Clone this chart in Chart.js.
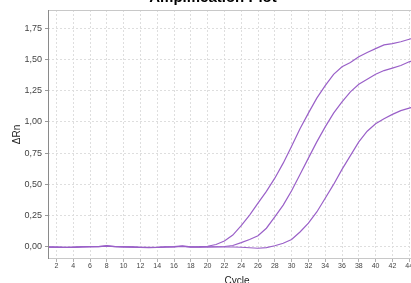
<!DOCTYPE html>
<html>
<head>
<meta charset="utf-8">
<script src="https://cdn.jsdelivr.net/npm/chart.js@4"></script>
<style>
    html, body { margin: 0; padding: 0; background: #fff; }
    #wrap { position: relative; width: 411px; height: 283px; overflow: hidden; }
    #wrap canvas { position: absolute; left: 0; top: -12px; }
</style>
</head>
<body>
<div id="wrap"><canvas id="ampChart" width="426" height="300"></canvas></div>
<script>
var cycles = [1, 2, 3, 4, 5, 6, 7, 8, 9, 10, 11, 12, 13, 14, 15, 16, 17, 18, 19, 20,
    21, 22, 23, 24, 25, 26, 27, 28, 29, 30, 31, 32, 33, 34, 35, 36, 37, 38, 39, 40,
    41, 42, 43, 44, 45];

var wellA = [0.000, -0.002, -0.004, -0.002, 0.002, 0.003, 0.004, 0.012, 0.004, 0.002,
    0.001, -0.004, -0.004, -0.003, 0.001, 0.003, 0.010, 0.002, 0.003, 0.006,
    0.020, 0.048, 0.095, 0.170, 0.255, 0.350, 0.445, 0.550, 0.670, 0.805,
    0.945, 1.070, 1.190, 1.290, 1.380, 1.440, 1.475, 1.520, 1.555, 1.585,
    1.615, 1.625, 1.640, 1.660, 1.680];

var wellB = [-0.002, 0.000, -0.003, -0.003, 0.000, 0.002, 0.003, 0.008, 0.003, 0.001,
    0.000, -0.003, -0.005, -0.004, 0.000, 0.002, 0.006, 0.000, 0.000, 0.001,
    0.002, 0.004, 0.012, 0.035, 0.060, 0.090, 0.150, 0.240, 0.335, 0.450,
    0.580, 0.710, 0.840, 0.960, 1.070, 1.160, 1.240, 1.300, 1.340, 1.380,
    1.410, 1.430, 1.450, 1.480, 1.500];

var wellC = [0.001, -0.001, -0.002, -0.001, 0.001, 0.002, 0.002, 0.006, 0.002, 0.001,
    -0.001, -0.002, -0.003, -0.002, 0.000, 0.001, 0.004, -0.001, -0.001, 0.000,
    0.000, 0.000, 0.000, -0.002, -0.006, -0.010, -0.005, 0.010, 0.030, 0.060,
    0.120, 0.190, 0.280, 0.390, 0.500, 0.620, 0.730, 0.840, 0.925, 0.985,
    1.025, 1.060, 1.090, 1.110, 1.130];

var xTicks = [2, 4, 6, 8, 10, 12, 14, 16, 18, 20, 22, 24, 26, 28, 30, 32, 34, 36, 38, 40, 42, 44];
var yTicks = [0, 0.25, 0.5, 0.75, 1, 1.25, 1.5, 1.75];

var lineColor = '#9a60c8';
var fontFamily = 'Liberation Sans, Arial, sans-serif';

function points(values) {
    return cycles.map(function (c, i) { return { x: c, y: values[i] }; });
}

function series(label, values) {
    return {
        label: label,
        data: points(values),
        borderColor: lineColor,
        borderWidth: 1.2,
        pointRadius: 0,
        tension: 0,
        fill: false
    };
}

// light frame round the plot area, darker left axis
var plotFrame = {
    id: 'plotFrame',
    afterDraw: function (chart) {
        var a = chart.chartArea;
        var c = chart.ctx;
        c.save();
        c.strokeStyle = '#c8c8c8';
        c.lineWidth = 1;
        c.strokeRect(a.left + 0.5, a.top + 0.5, a.right - a.left, a.bottom - a.top - 1);
        c.strokeStyle = '#8a8a8a';
        c.beginPath();
        c.moveTo(a.left + 0.5, a.top);
        c.lineTo(a.left + 0.5, a.bottom);
        c.stroke();
        c.restore();
    }
};

var ctx = document.getElementById('ampChart').getContext('2d');
new Chart(ctx, {
    type: 'line',
    data: {
        datasets: [series('A', wellA), series('B', wellB), series('C', wellC)]
    },
    options: {
        responsive: false,
        animation: false,
        layout: { padding: 0 },
        plugins: {
            legend: { display: false },
            tooltip: { enabled: false },
            title: {
                display: true,
                text: 'Amplification Plot',
                color: '#000',
                font: { family: fontFamily, size: 15, weight: 'bold' },
                padding: { top: 1, bottom: 3 }
            }
        },
        scales: {
            x: {
                type: 'linear',
                min: 1,
                max: 46,
                afterBuildTicks: function (scale) {
                    scale.ticks = xTicks.map(function (v) { return { value: v }; });
                },
                afterFit: function (scale) { scale.height = 29; },
                grid: { color: '#dedede', tickLength: 3, tickColor: '#b0b0b0' },
                border: { display: false, dash: [2, 2] },
                ticks: {
                    padding: 0,
                    color: '#444',
                    font: { family: fontFamily, size: 7 }
                },
                title: {
                    display: true,
                    text: 'Cycle',
                    color: '#222',
                    font: { family: fontFamily, size: 10 },
                    padding: { top: 0, bottom: 1 }
                }
            },
            y: {
                type: 'linear',
                min: -0.096,
                max: 1.894,
                afterBuildTicks: function (scale) {
                    scale.ticks = yTicks.map(function (v) { return { value: v }; });
                },
                afterFit: function (scale) { scale.width = 48; },
                grid: { color: '#dedede', tickLength: 3, tickColor: '#999' },
                border: { display: false, dash: [2, 2] },
                ticks: {
                    padding: 3,
                    color: '#444',
                    font: { family: fontFamily, size: 9 },
                    callback: function (v) { return v.toFixed(2).replace('.', ','); }
                },
                title: {
                    display: true,
                    text: 'ΔRn',
                    color: '#222',
                    font: { family: fontFamily, size: 10 },
                    padding: { top: 11, bottom: 0 }
                }
            }
        }
    },
    plugins: [plotFrame]
});
</script>
</body>
</html>
